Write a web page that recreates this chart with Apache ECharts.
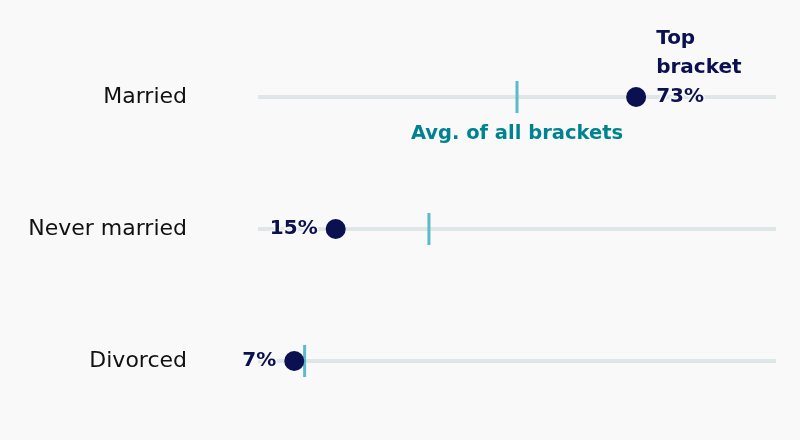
<!DOCTYPE html>
<html>
<head>
<meta charset="utf-8">
<script src="https://cdn.jsdelivr.net/npm/echarts@6/dist/echarts.min.js"></script>
<style>
  html, body { margin: 0; padding: 0; background: #f9f9f9; }
  #chart { width: 800px; height: 440px; }
</style>
</head>
<body>
<div id="chart"></div>
<script>
var categories = ["Married", "Never married", "Divorced"];
var topBracket = [73, 15, 7];
var avgAll = [50, 33, 9];
var trackMax = [100, 100, 100];

var myChart = echarts.init(document.getElementById("chart"));

var navy = "#0a1050",
    teal = "#5bbcc8",
    tealText = "#008391",
    bg = "#f9f9f9",
    font = "DejaVu Sans";

var dotData = topBracket.map(function (v, i) {
    var item = { value: [v, categories[i]] };
    if (i === 0) {
        item.label = {
            position: "right",
            distance: 10,
            align: "left",
            offset: [0, -29],
            lineHeight: 29,
            formatter: "Top\nbracket\n" + v + "%"
        };
    }
    return item;
});

var avgData = avgAll.map(function (v, i) {
    var item = { value: [v, categories[i]] };
    if (i === 0) {
        item.label = {
            show: true,
            position: "bottom",
            distance: 11,
            formatter: "Avg. of all brackets",
            color: tealText,
            fontSize: 19.5,
            fontWeight: "bold",
            fontFamily: font
        };
    }
    return item;
});

var option = {
    backgroundColor: bg,
    animation: false,
    grid: { left: 258, right: 24, top: 31, bottom: 13 },
    xAxis: {
        type: "value",
        min: 0,
        max: 100,
        show: false
    },
    yAxis: {
        type: "category",
        data: categories,
        inverse: true,
        axisLine: { show: false },
        axisTick: { show: false },
        splitLine: { show: false },
        axisLabel: {
            margin: 71,
            fontSize: 22,
            color: "#111",
            fontFamily: font
        }
    },
    series: [
        {
            // grey track
            type: "bar",
            data: trackMax,
            barWidth: 4,
            itemStyle: { color: "#dfe6e7" },
            silent: true
        },
        {
            name: "avg",
            type: "scatter",
            symbol: "rect",
            symbolSize: [3, 32],
            itemStyle: { color: teal, opacity: 1 },
            data: avgData,
            z: 3
        },
        {
            name: "top",
            type: "scatter",
            symbolSize: 20,
            itemStyle: { color: navy, opacity: 1 },
            data: dotData,
            z: 4,
            label: {
                show: true,
                position: "left",
                distance: 8,
                formatter: function (p) { return p.value[0] + "%"; },
                color: navy,
                fontSize: 20,
                fontWeight: "bold",
                fontFamily: font,
                textBorderColor: bg,
                textBorderWidth: 3
            }
        }
    ]
};

myChart.setOption(option);
</script>
</body>
</html>
